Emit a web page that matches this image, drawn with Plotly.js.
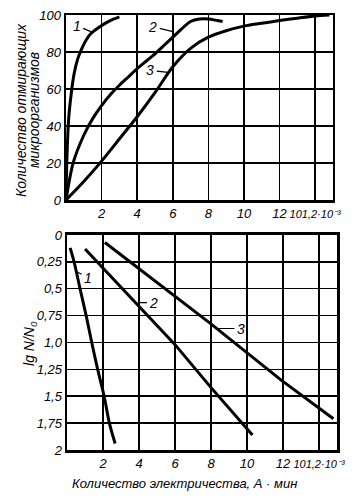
<!DOCTYPE html>
<html>
<head>
<meta charset="utf-8">
<script src="https://cdn.plot.ly/plotly-3.0.1.min.js"></script>
<style>html,body{margin:0;padding:0;background:#fff;}</style>
</head>
<body>
<div id="chart" style="width:358px;height:501px;"></div>
<script>
// ---- Data (top chart: number of dying microorganisms, %) ----
const curve1X = [0, 0.05, 0.15, 0.3, 0.45, 0.65, 0.85, 1.1, 1.4, 1.8, 2.2, 2.6, 3.0];
const curve1Y = [0, 22, 44, 58, 68, 76, 81, 86, 90, 93, 95.5, 97.5, 99];
const curve2X = [0, 0.4, 1.0, 1.5, 2.0, 2.5, 3.0, 3.5, 4.0, 4.5, 5.0, 5.5, 6.0, 6.5, 7.0, 7.5, 8.0, 8.5, 8.8];
const curve2Y = [0, 20, 35, 44, 51, 57, 62, 66.5, 71, 75, 79, 83.5, 88, 92.5, 96.5, 97.8, 97.8, 97, 96.5];
const curve3X = [0, 1, 2, 3, 4, 5, 6, 7, 8, 9, 10, 11, 12, 13, 14, 14.8];
const curve3Y = [0, 10, 21, 33, 45, 58, 72, 82, 88, 91.5, 94, 95.5, 97, 98.3, 99.5, 100];

// ---- Data (bottom chart: lg N/N0) ----
const line1X = [0.17, 0.39, 0.72, 1.06, 1.37, 1.7, 2.06, 2.35, 2.67];
const line1Y = [0.12, 0.25, 0.5, 0.75, 1.0, 1.25, 1.5, 1.75, 1.94];
const line2X = [1.0, 4.0, 6.0, 8.0, 10.3];
const line2Y = [0.13, 0.66, 1.02, 1.42, 1.86];
const line3X = [2.1, 7.94, 11.9, 14.8];
const line3Y = [0.07, 0.82, 1.35, 1.71];

// ---- Tick labels ----
const xTickVals = [2, 4, 6, 8, 10, 12, 14];
const xTickText = ["2", "4", "6", "8", "10", "12", "<span style='font-size:11px'>101,2·10⁻³</span>"];
const yTopTickVals = [0, 20, 40, 60, 80, 100];
const yTopTickText = ["0", "20", "40", "60", "80", "100"];
const yBotTickVals = [0, 0.25, 0.5, 0.75, 1.0, 1.25, 1.5, 1.75, 2];
const yBotTickText = ["0", "0,25", "0,5", "0,75", "1,0", "1,25", "1,5", "1,75", "2"];

// ---- Texts ----
const yTopTitle1 = "Количество отмирающих";
const yTopTitle2 = "микроорганизмов";
const yBotTitle = "lg N/N<sub>0</sub>";
const xBotTitle = "Количество электричества, А · мин";

const tickFont = {family: "Liberation Sans Narrow, Liberation Sans, sans-serif", size: 13, color: "#000", style: "italic"};
const titleFont = {family: "Liberation Sans, sans-serif", size: 13, color: "#000", style: "italic"};
const yTitleFont = {family: "Liberation Sans, sans-serif", size: 14, color: "#000", style: "italic"};

const lineStyle = {color: "#000", width: 3, shape: "spline", smoothing: 0.8};

const traces = [
  {x: curve1X, y: curve1Y, xaxis: "x", yaxis: "y", mode: "lines", line: lineStyle, hoverinfo: "skip"},
  {x: curve2X, y: curve2Y, xaxis: "x", yaxis: "y", mode: "lines", line: lineStyle, hoverinfo: "skip"},
  {x: curve3X, y: curve3Y, xaxis: "x", yaxis: "y", mode: "lines", line: lineStyle, hoverinfo: "skip"},
  {x: line1X, y: line1Y, xaxis: "x2", yaxis: "y2", mode: "lines", line: lineStyle, hoverinfo: "skip"},
  {x: line2X, y: line2Y, xaxis: "x2", yaxis: "y2", mode: "lines", line: {color: "#000", width: 3}, hoverinfo: "skip"},
  {x: line3X, y: line3Y, xaxis: "x2", yaxis: "y2", mode: "lines", line: {color: "#000", width: 3}, hoverinfo: "skip"}
];

const axisCommon = {
  showline: true, mirror: true, linecolor: "#000", linewidth: 2.5,
  showgrid: true, gridcolor: "#000", gridwidth: 1.5,
  zeroline: false, ticks: "", tickfont: tickFont, fixedrange: true,
  ticklabeloverflow: "allow", tickangle: 0
};

function lbl(text, xref, yref, x, y, ax, ay) {
  return {text: text, xref: xref, yref: yref, x: x, y: y, ax: ax, ay: ay,
          showarrow: true, arrowhead: 0, arrowwidth: 1.2, arrowcolor: "#000",
          standoff: 0, startstandoff: 1, font: {family: "Liberation Sans, sans-serif", size: 14, color: "#000", style: "italic"}};
}

const layout = {
  width: 358, height: 501,
  margin: {l: 66, r: 21, t: 15, b: 51, pad: 0},
  paper_bgcolor: "#fff", plot_bgcolor: "#fff",
  showlegend: false,
  xaxis: Object.assign({}, axisCommon, {domain: [0, 0.985], anchor: "y", range: [0, 15], tickvals: xTickVals, ticktext: xTickText}),
  yaxis: Object.assign({}, axisCommon, {domain: [0.5747, 1], anchor: "x", range: [0, 100], tickvals: yTopTickVals, ticktext: yTopTickText}),
  xaxis2: Object.assign({}, axisCommon, {domain: [0.004, 1], anchor: "y2", range: [0, 15], tickvals: xTickVals, ticktext: xTickText}),
  yaxis2: Object.assign({}, axisCommon, {domain: [0, 0.4943], anchor: "x2", range: [2, 0], tickvals: yBotTickVals, ticktext: yBotTickText}),
  annotations: [
    lbl("1", "x", "y", 1.39, 91, -14, -6),
    lbl("2", "x", "y", 6.0, 91, -20, -5),
    lbl("3", "x", "y", 5.74, 69, -18, -2),
    lbl("1", "x2", "y2", 0.5, 0.34, 12, 6),
    lbl("2", "x2", "y2", 3.94, 0.63, 16, 0),
    lbl("3", "x2", "y2", 8.33, 0.87, 24, 0),
    {text: yTopTitle1, xref: "paper", yref: "paper", x: -0.166, y: 0.7816, showarrow: false, textangle: -90, font: yTitleFont, xanchor: "center", yanchor: "middle"},
    {text: yTopTitle2, xref: "paper", yref: "paper", x: -0.118, y: 0.7816, showarrow: false, textangle: -90, font: yTitleFont, xanchor: "center", yanchor: "middle"},
    {text: yBotTitle, xref: "paper", yref: "paper", x: -0.133, y: 0.246, showarrow: false, textangle: -90, font: {family: "Liberation Sans, sans-serif", size: 14, color: "#000", style: "italic"}, xanchor: "center", yanchor: "middle"},
    {text: xBotTitle, xref: "paper", yref: "paper", x: 0.439, y: -0.0759, showarrow: false, font: titleFont, xanchor: "center", yanchor: "middle"}
  ]
};

Plotly.newPlot("chart", traces, layout, {displayModeBar: false, staticPlot: true});
</script>
</body>
</html>
